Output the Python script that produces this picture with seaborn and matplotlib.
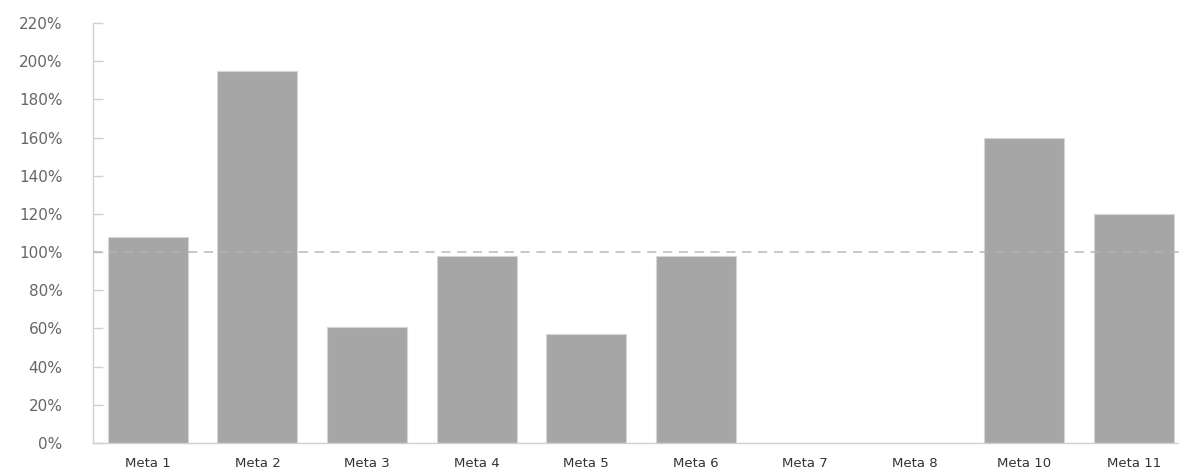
import matplotlib
matplotlib.use("Agg")
import matplotlib.pyplot as plt
import seaborn as sns
import pandas as pd
from matplotlib.ticker import FuncFormatter, MultipleLocator

categories = ["Meta 1", "Meta 2", "Meta 3", "Meta 4", "Meta 5", "Meta 6",
              "Meta 7", "Meta 8", "Meta 10", "Meta 11"]
values = [108, 195, 61, 98, 57, 98, 0, 0, 160, 120]
reference_line = 100

df = pd.DataFrame({"meta": categories, "pct": values})

sns.set_theme(style="white")
plt.rcParams['font.family'] = ['DejaVu Sans']

fig = plt.figure(figsize=(11.79, 4.74), dpi=100)
ax = fig.add_axes([0.0789, 0.0654, 0.9211, 0.8861])

sns.barplot(data=df, x="meta", y="pct", color="#a6a6a6", saturation=1,
            width=0.73, edgecolor="#d6d6d6", linewidth=0.8, ax=ax, zorder=2)

ax.axhline(reference_line, color="#b4b4b4", linestyle=(0, (5.5, 4)),
           linewidth=1.2, alpha=0.85, zorder=3)

ax.set_ylim(0, 220)
ax.set_xlim(-0.5, 9.41)
ax.yaxis.set_major_locator(MultipleLocator(20))
ax.yaxis.set_major_formatter(FuncFormatter(lambda v, p: f"{int(v)}%"))
ax.set_xlabel("")
ax.set_ylabel("")

for s in ["top", "right"]:
    ax.spines[s].set_visible(False)
for s in ["left", "bottom"]:
    ax.spines[s].set_color("#c8d2de")
    ax.spines[s].set_linewidth(1.0)

ax.tick_params(axis="y", which="major", direction="in", length=7, width=1,
               color="#c8d2de", labelsize=11, labelcolor="#666666", pad=22, left=True)
ax.tick_params(axis="x", length=0, labelsize=9.5, labelcolor="#333333", pad=10)
for lbl in ax.get_yticklabels():
    lbl.set_horizontalalignment("right")

fig.savefig("out.png", dpi=100)
